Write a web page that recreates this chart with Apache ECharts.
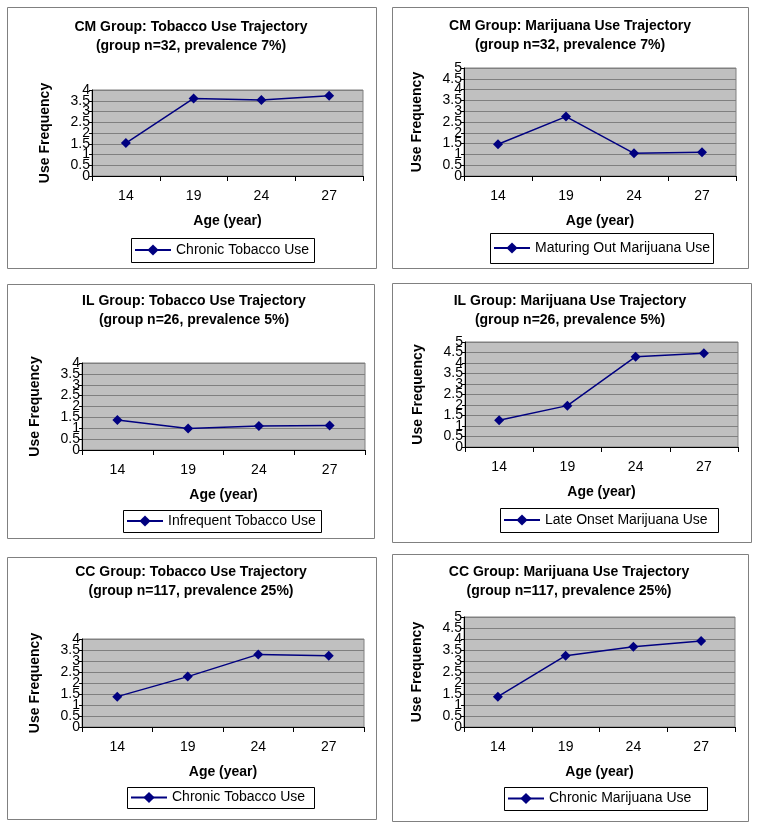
<!DOCTYPE html>
<html>
<head>
<meta charset="utf-8">
<script src="https://cdn.jsdelivr.net/npm/echarts@6/dist/echarts.min.js"></script>
<style>
  html, body { margin: 0; padding: 0; background: #fff; }
  #main { width: 757px; height: 829px; }
</style>
</head>
<body>
<div id="main"></div>
<script>
// 数据
const ages = ['14', '19', '24', '27'];
const cmTobacco = [1.53, 3.61, 3.53, 3.73];
const cmMarijuana = [1.47, 2.75, 1.05, 1.1];
const ilTobacco = [1.38, 0.99, 1.1, 1.13];
const ilMarijuana = [1.27, 1.97, 4.3, 4.46];
const ccTobacco = [1.38, 2.29, 3.3, 3.24];
const ccMarijuana = [1.38, 3.24, 3.65, 3.91];
const yMaxes = [4, 5, 4, 5, 4, 5];

const titles = [
    'CM Group: Tobacco Use Trajectory\n(group n=32, prevalence 7%)',
    'CM Group: Marijuana Use Trajectory\n(group n=32, prevalence 7%)',
    'IL Group: Tobacco Use Trajectory\n(group n=26, prevalence 5%)',
    'IL Group: Marijuana Use Trajectory\n(group n=26, prevalence 5%)',
    'CC Group: Tobacco Use Trajectory\n(group n=117, prevalence 25%)',
    'CC Group: Marijuana Use Trajectory\n(group n=117, prevalence 25%)'
];
const legendNames = [
    'Chronic Tobacco Use',
    'Maturing Out Marijuana Use',
    'Infrequent Tobacco Use',
    'Late Onset Marijuana Use',
    'Chronic Tobacco Use ',
    'Chronic Marijuana Use'
];
const seriesData = [cmTobacco, cmMarijuana, ilTobacco, ilMarijuana, ccTobacco, ccMarijuana];

// 布局 (像素)
const boxes = [
    [7, 7, 369, 261], [392, 7, 356, 261],
    [7, 284, 367, 254], [392, 283, 359, 259],
    [7, 557, 369, 262], [392, 554, 356, 267]
];
const plots = [
    [92, 90, 363, 176], [464, 68, 736, 176],
    [82, 363, 365, 450], [465, 342, 738, 447],
    [82, 639, 364, 727], [464, 617, 735, 727]
];
const titlePos = [[191, 18], [570, 17], [194, 292], [570, 292], [191, 563], [569, 563]];
const legendBoxes = [
    [131, 238, 314, 262], [490, 233, 713, 263],
    [123, 510, 321, 532], [500, 508, 718, 532],
    [127, 787, 314, 808], [504, 787, 707, 810]
];

const navy = '#000080';
const font = 'Arial, "Liberation Sans", sans-serif';

let myChart = echarts.init(document.getElementById('main'));

const grid = [], xAxis = [], yAxis = [], series = [], title = [], legend = [], graphic = [];

const yLabelStyle = { fontFamily: font, fontSize: 14, color: '#000', margin: 2, showMinLabel: true, showMaxLabel: true };

for (let i = 0; i < 6; i++) {
    const [l, t, r, b] = plots[i];
    const [bx, by, bw, bh] = boxes[i];
    const [lx1, ly1, lx2, ly2] = legendBoxes[i];

    graphic.push({
        type: 'rect', silent: true, z: -10,
        shape: { x: bx + 0.5, y: by + 0.5, width: bw, height: bh },
        style: { fill: '#fff', stroke: '#808080', lineWidth: 1 }
    });
    graphic.push({
        type: 'rect', silent: true, z: -5,
        shape: { x: lx1 + 0.5, y: ly1 + 0.5, width: lx2 - lx1, height: ly2 - ly1 },
        style: { fill: '#fff', stroke: '#000', lineWidth: 1 }
    });

    grid.push({
        left: l, top: t, width: r - l, height: b - t,
        show: true, backgroundColor: '#c0c0c0', borderColor: '#808080', borderWidth: 1,
        containLabel: false, outerBoundsMode: 'none'
    });

    xAxis.push({
        type: 'category', gridIndex: i, data: ages, boundaryGap: true,
        name: 'Age (year)', nameLocation: 'middle', nameGap: 38,
        nameTextStyle: { fontFamily: font, fontSize: 14, fontWeight: 'bold', color: '#000' },
        axisLine: { lineStyle: { color: '#000', width: 1 } },
        axisTick: { show: true, length: 5, interval: 0, lineStyle: { color: '#000' } },
        axisLabel: { fontFamily: font, fontSize: 14, color: '#000', margin: 13, interval: 0 },
        splitLine: { show: false }
    });

    // 整数标签
    yAxis.push({
        type: 'value', gridIndex: i, min: 0, max: yMaxes[i], interval: 0.5, position: 'left',
        name: 'Use Frequency', nameLocation: 'middle', nameGap: 40, nameRotate: 90,
        nameTextStyle: { fontFamily: font, fontSize: 14, fontWeight: 'bold', color: '#000' },
        axisLine: { show: true, lineStyle: { color: '#000', width: 1 } },
        axisTick: { show: true, length: 3, lineStyle: { color: '#000' } },
        axisLabel: Object.assign({ formatter: v => (v % 1 === 0 ? String(v) : '') }, yLabelStyle),
        splitLine: { show: true, lineStyle: { color: '#808080', width: 1 } }
    });
    // 半数标签（原图中标签互相重叠，分两条轴画以免被自动隐藏）
    yAxis.push({
        type: 'value', gridIndex: i, min: 0, max: yMaxes[i], interval: 0.5, position: 'left', offset: 0,
        axisLine: { show: false }, axisTick: { show: false }, splitLine: { show: false },
        axisLabel: Object.assign({ formatter: v => (v % 1 !== 0 ? String(v) : '') }, yLabelStyle)
    });

    series.push({
        name: legendNames[i], type: 'line', xAxisIndex: i, yAxisIndex: i * 2,
        data: seriesData[i],
        symbol: 'diamond', symbolSize: 10,
        lineStyle: { color: navy, width: 1.5 },
        itemStyle: { color: navy },
        animation: false
    });

    title.push({
        text: titles[i], left: titlePos[i][0], top: titlePos[i][1], textAlign: 'center',
        padding: 0,
        textStyle: { fontFamily: font, fontSize: 14, fontWeight: 'bold', color: '#000', lineHeight: 19 }
    });

    legend.push({
        data: [legendNames[i]], left: lx1 + 3, top: ly1 + (ly2 - ly1) / 2 - 7,
        padding: 0, itemWidth: 36, itemHeight: 14, itemGap: 4,
        selectedMode: false,
        textStyle: { fontFamily: font, fontSize: 14, color: '#000' }
    });
}

myChart.setOption({
    animation: false,
    title: title,
    legend: legend,
    grid: grid,
    xAxis: xAxis,
    yAxis: yAxis,
    series: series,
    graphic: graphic
});
</script>
</body>
</html>
